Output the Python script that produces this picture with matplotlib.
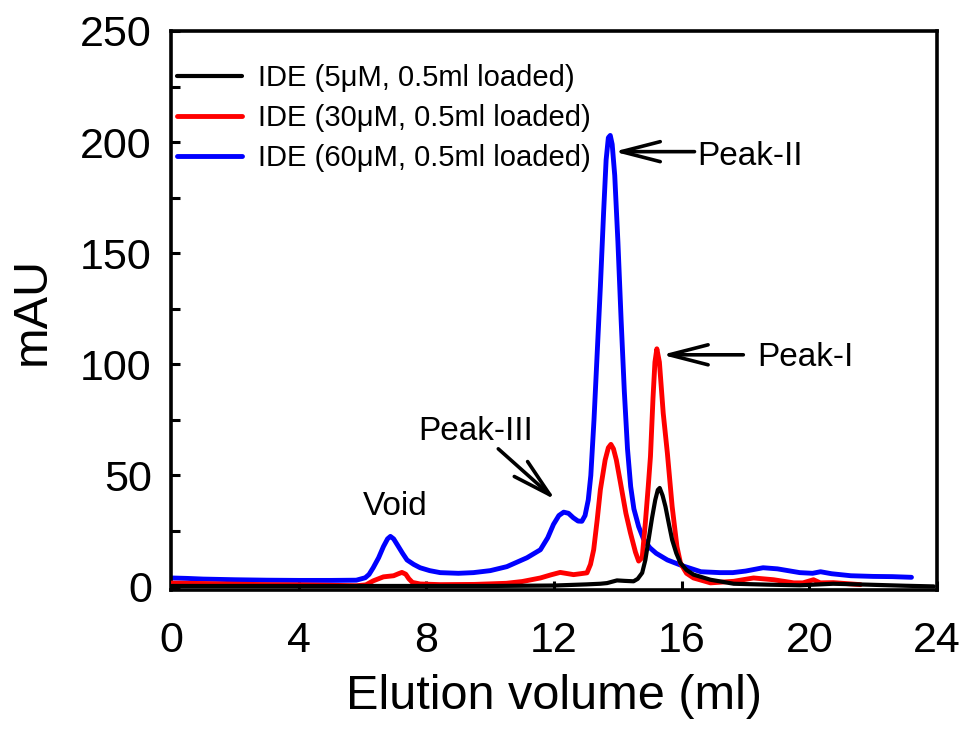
import matplotlib
matplotlib.use("Agg")
import matplotlib.pyplot as plt
from matplotlib.ticker import MultipleLocator

plt.rcParams["font.family"] = ["Liberation Sans", "DejaVu Sans"]

# chromatogram traces (elution volume in ml, absorbance in mAU)
x_5um = [0, 2, 4, 6, 8, 10, 11, 12, 12.6, 13.0, 13.45, 13.66, 13.97, 14.2, 14.49, 14.62, 14.76, 14.86,
         14.96, 15.07, 15.17, 15.25, 15.31, 15.4, 15.49, 15.6, 15.70, 15.83, 15.96, 16.15, 16.37,
         16.9, 17.63, 18.67, 19.7, 20.75, 21.8, 23.0, 23.9]
y_5um = [0.3, 0.3, 0.3, 0.3, 0.3, 0.3, 0.4, 0.5, 0.8, 1.0, 1.3, 1.6, 2.8, 2.6, 2.4, 3.5, 6.2, 12,
         21, 31, 39, 43.5, 44.4, 41, 36, 28, 21, 15, 10.6, 7.5, 5.4,
         3.1, 1.3, 0.9, 0.6, 1.3, 0.9, 0.4, 0.1]

x_30um = [0, 1, 2, 3, 4, 5, 5.8, 6.1, 6.33, 6.65, 6.97, 7.12, 7.23, 7.35, 7.45, 7.56, 7.8, 8.43, 9.5,
          10.5, 11.0, 11.57, 11.9, 12.19, 12.61, 13.03, 13.14, 13.24, 13.35, 13.45, 13.6, 13.7,
          13.78, 13.86, 13.95, 14.08, 14.25, 14.39, 14.55, 14.65, 14.76, 14.86, 14.95, 15.02, 15.1,
          15.16, 15.22, 15.3, 15.42, 15.55, 15.7, 15.85, 15.96, 16.15, 16.37, 16.9, 17.63, 18.25,
          18.88, 19.51, 19.8, 20.13, 20.34, 20.75, 21.6]
y_30um = [1.6, 1.4, 1.1, 0.9, 0.8, 0.6, 0.4, 0.8, 2.6, 4.4, 4.9, 5.8, 6.4, 5.6, 3.5, 1.9, 1.2, 0.9, 1.0,
          1.5, 2.3, 3.9, 5.3, 6.4, 5.4, 6.2, 10, 16.6, 30, 43.6, 57, 62.5,
          64, 62, 57, 46.7, 33, 24.3, 15.5, 11.5, 13, 28.8, 45, 58.6, 85,
          101, 107, 101, 78, 60, 36, 18, 10.6, 6, 3.9, 1.7, 2.4, 3.9,
          3.1, 1.7, 1.7, 3.1, 1.7, 1.8, 0.9]

x_60um = [0, 0.5, 1, 2, 3, 4, 5, 5.8, 6.08, 6.2, 6.33, 6.5, 6.65, 6.78, 6.87, 6.97, 7.1, 7.25, 7.39,
          7.6, 7.8, 8.1, 8.43, 9.0, 9.47, 10.0, 10.52, 11.15, 11.57, 11.8, 11.98, 12.15, 12.3, 12.45,
          12.6, 12.75, 12.87, 12.97, 13.07, 13.15, 13.25, 13.35, 13.45, 13.55, 13.63, 13.7, 13.76,
          13.82, 13.9, 14.0, 14.1, 14.2, 14.3, 14.4, 14.5, 14.65, 14.8, 15.0, 15.2, 15.55, 16.0,
          16.6, 17.2, 17.6, 18.0, 18.55, 19.0, 19.7, 20.1, 20.35, 20.7, 21.3, 22.0, 22.6, 23.2]
y_60um = [3.9, 3.7, 3.4, 3.1, 2.9, 2.8, 2.8, 2.9, 4.0, 5.5, 8.5, 13, 18, 21.5, 22.6, 21.5, 18.5, 15, 12,
          10, 8.5, 7.2, 6.3, 6.0, 6.3, 7.2, 9.0, 13, 16.6, 22, 28, 32, 33.5, 33,
          31, 29.5, 29.4, 32, 39, 50, 75, 105, 135, 168, 192, 202, 203,
          199, 185, 155, 120, 88, 62, 45, 35, 27, 21.5, 17.5, 15, 12, 9.5,
          6.7, 6.3, 6.3, 7.0, 8.5, 8.0, 6.3, 6.0, 6.7, 5.8, 4.9, 4.6, 4.5, 4.2]

series_labels = ["IDE (5\u03bcM, 0.5ml loaded)",
                 "IDE (30\u03bcM, 0.5ml loaded)",
                 "IDE (60\u03bcM, 0.5ml loaded)"]
x_ticks = [0, 4, 8, 12, 16, 20, 24]
y_ticks = [0, 50, 100, 150, 200, 250]

fig = plt.figure(figsize=(9.62, 7.37), dpi=100)
ax = fig.add_axes([0.178, 0.1995, 0.796, 0.7585])

# draw traces
line_kw = dict(solid_capstyle="round", solid_joinstyle="round")
ax.plot(x_60um, y_60um, color="#0000ff", lw=3.5, zorder=2, **line_kw)
ax.plot(x_30um, y_30um, color="#ff0000", lw=3.5, zorder=3, **line_kw)
ax.plot(x_5um, y_5um, color="black", lw=3.0, zorder=4, **line_kw)

# legend built from the three traces in reference order
handles = [ax.lines[2], ax.lines[1], ax.lines[0]]
ax.legend(handles, series_labels, loc="upper left", bbox_to_anchor=(0.008, 0.94),
          frameon=False, fontsize=21, handlelength=2.2, handletextpad=0.55,
          labelspacing=0.4, borderpad=0, borderaxespad=0)

# peak annotations
arrow = dict(arrowstyle="->, head_length=0.7, head_width=0.18", lw=2.6, color="black",
             mutation_scale=40, shrinkA=0, shrinkB=0)
ax.annotate("", xy=(13.88, 195.7), xytext=(16.4, 195.7), arrowprops=arrow)
ax.text(16.5, 193.5, "Peak-II", fontsize=24, va="center", ha="left")
ax.annotate("", xy=(15.38, 104.3), xytext=(17.93, 104.3), arrowprops=arrow)
ax.text(18.37, 103, "Peak-I", fontsize=24, va="center", ha="left")
ax.annotate("", xy=(12.04, 39.1), xytext=(10.25, 62), arrowprops=arrow)
ax.text(9.53, 69.7, "Peak-III", fontsize=24, va="center", ha="center")
ax.text(7.02, 36, "Void", fontsize=24, va="center", ha="center")

# axes styling
ax.set_xlim(0, 24)
ax.set_ylim(-1.5, 250)
ax.set_xticks(x_ticks)
ax.set_yticks(y_ticks)
ax.yaxis.set_minor_locator(MultipleLocator(25))
ax.tick_params(axis="both", which="both", direction="in", width=2.2, length=6.5, labelsize=31)
ax.tick_params(axis="x", pad=22)
ax.tick_params(axis="y", pad=14)
for spine in ax.spines.values():
    spine.set_linewidth(2.6)
ax.set_xlabel("Elution volume (ml)", fontsize=35, labelpad=10)
ax.set_ylabel("mAU", fontsize=35, labelpad=18)

fig.savefig("out.png", dpi=100, facecolor="white")
plt.close(fig)
